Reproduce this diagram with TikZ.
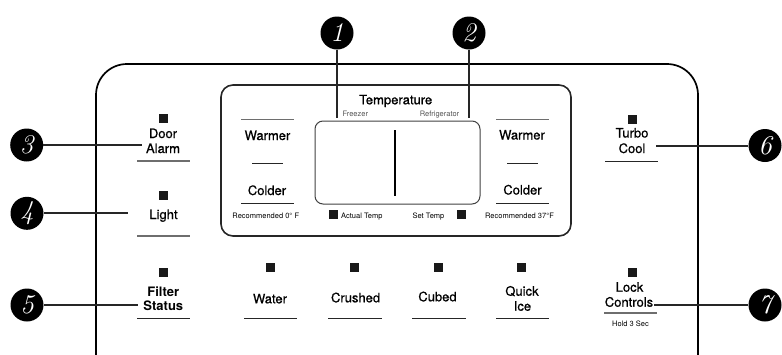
\documentclass[tikz,border=0pt]{standalone}
\usepackage{fontspec}
\newfontfamily\hv{TeX Gyre Heros}[FakeBold=0.7]
\newfontfamily\hvs{TeX Gyre Heros}
\newfontfamily\hvb{TeX Gyre Heros Bold}
\definecolor{ulgray}{HTML}{6E6E6E}
\definecolor{txtgray}{HTML}{555555}
\begin{document}
\begin{tikzpicture}[x=1pt,y=-1pt,
  lab/.style={anchor=base, inner sep=0pt, font=\hv\fontsize{13}{15}\selectfont},
  blab/.style={lab, font=\hvb\fontsize{13}{15}\selectfont},
  small/.style={anchor=base, inner sep=0pt, font=\hvs\fontsize{7.5}{9}\selectfont},
  tiny/.style={small, text=txtgray},
  led/.style={fill=black!90, minimum size=9pt, inner sep=0pt},
  conn/.style={line width=2pt, black!85},
  num/.style={circle, fill=black, minimum size=33pt, inner sep=0pt, text=white,
    font=\fontsize{27}{27}\selectfont\itshape},
  uline/.style={line width=1.4pt, black!85},
  gline/.style={line width=1.4pt, ulgray},
  panel/.style={line width=1.7pt, black}
]
\useasboundingbox (0,0) rectangle (782,354);

% outer panel
\draw[panel, rounded corners=31pt] (96,360) -- (96,64) -- (698,64) -- (698,360);

% temperature box
\draw[line width=1.6pt, black!85, rounded corners=12pt] (221,85) rectangle (571,236);
% display box
\draw[line width=1pt, black!75, rounded corners=8pt] (315,121) rectangle (480,204);
\draw[line width=2pt, black] (395,130) -- (395,196);

\node[lab] (temp) at (395.7,104.3) {Temperature};
\node[tiny] (frz) at (355.3,116.3) {Freezer};
\node[tiny] (ref) at (439.5,116.3) {Refrigerator};

% left temperature controls
\draw[gline] (241,119.3) -- (294,119.3);
\node[lab] (warmL) at (267.5,140) {Warmer};
\draw[uline] (252,163.3) -- (283,163.3);
\node[lab] (coldL) at (267,195) {Colder};
\draw[uline] (241,203.3) -- (294,203.3);
\node[small] (recL) at (265.8,218) {Recommended 0° F};

% right temperature controls
\draw[gline] (496,119.3) -- (549,119.3);
\node[lab] (warmR) at (522,139.5) {Warmer};
\draw[uline] (507,163.3) -- (538,163.3);
\node[lab] (coldR) at (522.5,194.5) {Colder};
\draw[uline] (496,203.3) -- (549,203.3);
\node[small] (recR) at (519.5,218) {Recommended 37°F};

% actual / set temp
\node[led] (ledAT) at (333,214.7) {};
\node[small, anchor=base west] (actT) at (341,218) {Actual Temp};
\node[small] (setT) at (428.5,218) {Set Temp};
\node[led] (ledST) at (461,214.7) {};

% left column
\node[led] (ledDA) at (163,118.7) {};
\node[lab] (door) at (163,138) {Door};
\node[lab] (alarm) at (163,153) {Alarm};
\draw[gline] (137,161) -- (190,161);

\node[led] (ledLi) at (163,195) {};
\node[lab] (light) at (163.5,219) {Light};
\draw[gline] (137,236) -- (190,236);

\node[led] (ledFS) at (163,272.8) {};
\node[blab] (filter) at (163.3,296) {Filter};
\node[blab] (status) at (163.3,310.7) {Status};
\draw[uline] (137,318.3) -- (190,318.3);

% right column
\node[led] (ledTC) at (632,119) {};
\node[lab] (turbo) at (632,137.5) {Turbo};
\node[lab] (cool) at (632,153) {Cool};
\draw[uline] (605,161.7) -- (658,161.7);

\node[led] (ledLC) at (632,272.5) {};
\node[lab] (lock) at (629.5,291.7) {Lock};
\node[lab] (controls) at (629,306.7) {Controls};
\draw[gline] (604,313) -- (657,313);
\node[small] (hold) at (630.5,326) {Hold 3 Sec};

% bottom row
\node[led] (ledW) at (270,267) {};
\node[lab] (water) at (270,303.3) {Water};
\draw[uline] (244,318.3) -- (297,318.3);

\node[led] (ledCr) at (354,267) {};
\node[lab] (crushed) at (355.6,302.3) {Crushed};
\draw[uline] (328,318.3) -- (382,318.3);

\node[led] (ledCu) at (438.3,267) {};
\node[lab] (cubed) at (437.5,301.3) {Cubed};
\draw[uline] (412,318.3) -- (466,318.3);

\node[led] (ledQI) at (521.7,267) {};
\node[lab] (quick) at (522,295.7) {Quick};
\node[lab] (ice) at (522.5,310.7) {Ice};
\draw[uline] (496,318.3) -- (549,318.3);

% callouts
\node[num] (c1) at (337,33) {1};
\node[num] (c2) at (469,33) {2};
\node[num] (c3) at (26.7,145) {3};
\node[num] (c4) at (27,213.3) {4};
\node[num] (c5) at (27,305) {5};
\node[num] (c6) at (765,145.5) {6};
\node[num] (c7) at (765,305) {7};

\coordinate (e1) at (337,118);
\coordinate (e2) at (469,118);
\coordinate (e3) at (142,145);
\coordinate (e4) at (128,213.3);
\coordinate (e5) at (138,305);
\coordinate (e6) at (656,145.5);
\coordinate (e7) at (654,305);

\draw[conn] (c1) -- (e1);
\draw[conn] (c2) -- (e2);
\draw[conn] (c3) -- (e3);
\draw[conn] (c4) -- (e4);
\draw[conn] (c5) -- (e5);
\draw[conn] (c6) -- (e6);
\draw[conn] (c7) -- (e7);
\end{tikzpicture}
\end{document}
